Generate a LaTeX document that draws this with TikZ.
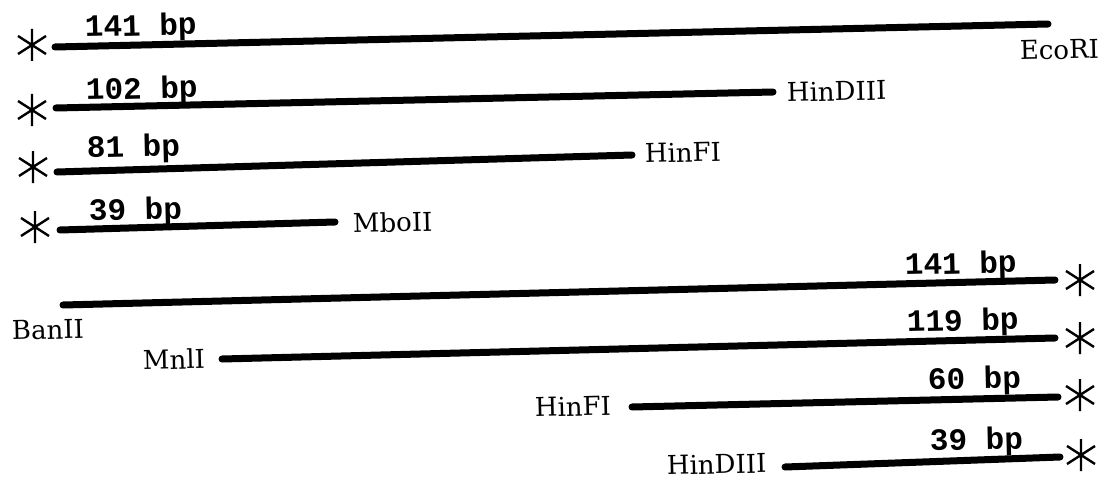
\documentclass[tikz,border=0pt]{standalone}
\usepackage{fontspec}
\newfontfamily\bpfont{Liberation Mono}
\newfontfamily\enzfont{DejaVu Serif}
\begin{document}
\begin{tikzpicture}[x=1pt,y=-1pt,
  frag/.style={line width=7pt, line cap=round},
  bplabel/.style={anchor=base west, inner sep=0pt, rotate=1.4, font=\bpfont\bfseries\fontsize{31}{36}\selectfont},
  enzlabel/.style={anchor=base west, inner sep=0pt, rotate=1.4, font=\enzfont\fontsize{26}{31}\selectfont},
  starmark/.pic={\draw[line width=2.4pt] (0,-16)--(0,16) (-14,-9)--(14,9) (-14,9)--(14,-9);}]
\useasboundingbox (0,0) rectangle (1120,495);
% fragment end points
\coordinate (a1) at (55,47);   \coordinate (b1) at (1048,24);
\coordinate (a2) at (56,108);  \coordinate (b2) at (773,92);
\coordinate (a3) at (57,172);  \coordinate (b3) at (632,155);
\coordinate (a4) at (60,230);  \coordinate (b4) at (335,222);
\coordinate (a5) at (63,305);  \coordinate (b5) at (1055,280);
\coordinate (a6) at (222,359); \coordinate (b6) at (1055,338);
\coordinate (a7) at (632,407); \coordinate (b7) at (1058,397);
\coordinate (a8) at (785,467); \coordinate (b8) at (1060,457);
\foreach \i in {1,...,8} {\draw[frag] (a\i) -- (b\i);}
% stars
\coordinate (s1) at (32,45);   \coordinate (s2) at (32,110);
\coordinate (s3) at (33,167);  \coordinate (s4) at (35,227);
\coordinate (s5) at (1080,280); \coordinate (s6) at (1080,338);
\coordinate (s7) at (1080,395); \coordinate (s8) at (1081,455);
\foreach \i in {1,...,8} {\pic at (s\i) {starmark};}
% size labels
\node[bplabel] (l1) at (85,37) {141 bp};
\node[bplabel] (l2) at (86,100) {102 bp};
\node[bplabel] (l3) at (87,158) {81 bp};
\node[bplabel] (l4) at (89,221) {39 bp};
\node[bplabel] (l5) at (905,275) {141 bp};
\node[bplabel] (l6) at (907,332) {119 bp};
\node[bplabel] (l7) at (928,390) {60 bp};
\node[bplabel] (l8) at (930,451) {39 bp};
% enzyme labels
\node[enzlabel] (e1) at (1020,60) {EcoRI};
\node[enzlabel] (e2) at (787,102) {HinDIII};
\node[enzlabel] (e3) at (645,163) {HinFI};
\node[enzlabel] (e4) at (353,233) {MboII};
\node[enzlabel] (e5) at (12,340) {BanII};
\node[enzlabel] (e6) at (143,370) {MnlI};
\node[enzlabel] (e7) at (535,417) {HinFI};
\node[enzlabel] (e8) at (667,475) {HinDIII};
\end{tikzpicture}
\end{document}
